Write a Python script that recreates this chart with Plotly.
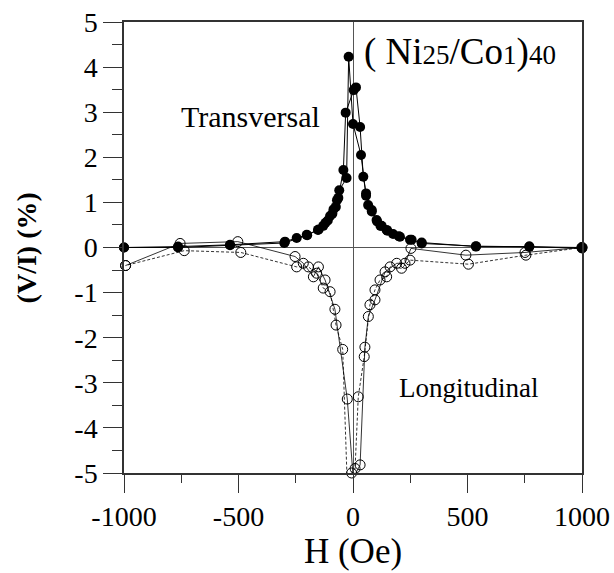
import plotly.graph_objects as go

# Transversal (filled circles), two field sweeps
t_up_h = [-1000, -764, -537, -297, -246, -202, -153, -130, -110, -90, -75, -64, -42, -32, 3, 13, 31, 45, 57, 66, 82, 103, 125, 147, 175, 205, 256, 300, 537, 770, 1000]
t_up_v = [0.0, 0.02, 0.06, 0.13, 0.21, 0.28, 0.39, 0.48, 0.60, 0.75, 0.90, 1.10, 1.72, 2.99, 3.49, 3.55, 2.67, 1.57, 1.20, 0.94, 0.83, 0.61, 0.48, 0.39, 0.30, 0.24, 0.17, 0.11, 0.02, 0.02, -0.02]
t_dn_h = [1000, 770, 537, 300, 249, 200, 150, 120, 105, 82, 57, 35, 0, -19, -28, -60, -70, -85, -100, -120, -150, -200, -300, -537, -764, -1000]
t_dn_v = [0.0, 0.02, 0.03, 0.09, 0.17, 0.25, 0.37, 0.48, 0.58, 0.80, 1.15, 2.05, 2.74, 4.23, 1.54, 1.27, 1.05, 0.85, 0.70, 0.55, 0.40, 0.27, 0.10, 0.05, 0.0, 0.0]

# Longitudinal (open circles), two field sweeps
l_dn_h = [1000, 755, 504, 249, 212, 162, 147, 118, 96, 74, 49, 23, 9, -6, -25, -45, -74, -100, -130, -159, -195, -246, -490, -737, -993]
l_dn_v = [0.0, -0.17, -0.37, -0.28, -0.46, -0.43, -0.65, -0.72, -0.94, -1.27, -2.42, -3.31, -4.90, -5.00, -5.27, -2.26, -1.72, -0.98, -0.90, -0.57, -0.43, -0.43, -0.11, -0.07, -0.40]
l_up_h = [-993, -755, -503, -253, -217, -173, -151, -122, -79, -25, 1, 31, 52, 67, 96, 140, 191, 227, 253, 493, 751, 1000]
l_up_v = [-0.40, 0.09, 0.13, -0.20, -0.35, -0.65, -0.43, -0.72, -1.37, -3.36, -5.12, -4.82, -2.21, -1.53, -1.16, -0.54, -0.35, -0.35, -0.02, -0.17, -0.11, 0.0]

x_ticks = [-1000, -500, 0, 500, 1000]
x_labels = ["-1000", "-500", "0", "500", "1000"]
y_ticks = [-5, -4, -3, -2, -1, 0, 1, 2, 3, 4, 5]
y_labels = ["-5", "-4", "-3", "-2", "-1", "0", "1", "2", "3", "4", "5"]

serif = "Liberation Serif, Times New Roman, serif"
open_marker = dict(symbol="circle-open", size=10, color="black", line=dict(width=1))
filled_marker = dict(symbol="circle", size=10, color="black")

fig = go.Figure()
# connecting lines
fig.add_trace(go.Scatter(x=l_dn_h, y=l_dn_v, mode="lines", line=dict(color="black", width=0.8, dash="3px,2px")))
fig.add_trace(go.Scatter(x=l_up_h, y=l_up_v, mode="lines", line=dict(color="black", width=0.8)))
fig.add_trace(go.Scatter(x=t_up_h, y=t_up_v, mode="lines", line=dict(color="black", width=1)))
fig.add_trace(go.Scatter(x=t_dn_h, y=t_dn_v, mode="lines", line=dict(color="black", width=1)))
# markers (not clipped at the frame)
fig.add_trace(go.Scatter(x=l_dn_h, y=l_dn_v, mode="markers", cliponaxis=False, marker=open_marker))
fig.add_trace(go.Scatter(x=l_up_h, y=l_up_v, mode="markers", cliponaxis=False, marker=open_marker))
fig.add_trace(go.Scatter(x=t_up_h, y=t_up_v, mode="markers", cliponaxis=False, marker=filled_marker))
fig.add_trace(go.Scatter(x=t_dn_h, y=t_dn_v, mode="markers", cliponaxis=False, marker=filled_marker))

fig.add_annotation(x=-760, y=2.9, text="Transversal", showarrow=False,
                   font=dict(family=serif, size=30, color="black"), xanchor="left")
fig.add_annotation(x=190, y=-3.12, text="Longitudinal", showarrow=False,
                   font=dict(family=serif, size=27, color="black"), xanchor="left")
fig.add_annotation(x=40, y=4.33, text="( Ni<span style='font-size:27px'>25</span>/Co<span style='font-size:27px'>1</span>)<span style='font-size:27px'>40</span>",
                   showarrow=False, font=dict(family=serif, size=37, color="black"), xanchor="left")
fig.add_annotation(xref="paper", yref="paper", x=-0.212, y=0.5, text="<b>(V/I) (%)</b>",
                   textangle=-90, showarrow=False, xanchor="center", yanchor="middle",
                   font=dict(family=serif, size=28, color="black"))

fig.update_layout(
    width=614, height=573, showlegend=False,
    margin=dict(l=124, r=32, t=22, b=100),
    plot_bgcolor="white", paper_bgcolor="white",
    font=dict(family=serif, color="black"),
)
fig.update_xaxes(range=[-1000, 1000], tickvals=x_ticks, ticktext=x_labels, ticks="outside", ticklen=18, tickwidth=1,
                 tickcolor="#333", showline=True, linecolor="#333", linewidth=1.5, mirror=True, automargin=False,
                 showgrid=False, zeroline=True, zerolinecolor="#555", zerolinewidth=1,
                 tickfont=dict(family=serif, size=28),
                 minor=dict(dtick=250, tick0=0, ticks="outside", ticklen=8, tickcolor="#333"),
                 title=dict(text="H (Oe)", font=dict(family=serif, size=35), standoff=4))
fig.update_yaxes(range=[-5, 5], tickvals=y_ticks, ticktext=y_labels, ticks="outside", ticklen=19, tickwidth=1,
                 tickcolor="#333", showline=True, linecolor="#333", linewidth=1.5, mirror=True, automargin=False,
                 showgrid=False, zeroline=True, zerolinecolor="#555", zerolinewidth=1,
                 tickfont=dict(family=serif, size=28),
                 minor=dict(dtick=0.5, tick0=0, ticks="outside", ticklen=10, tickcolor="#333"))

fig.write_html("out.html")
